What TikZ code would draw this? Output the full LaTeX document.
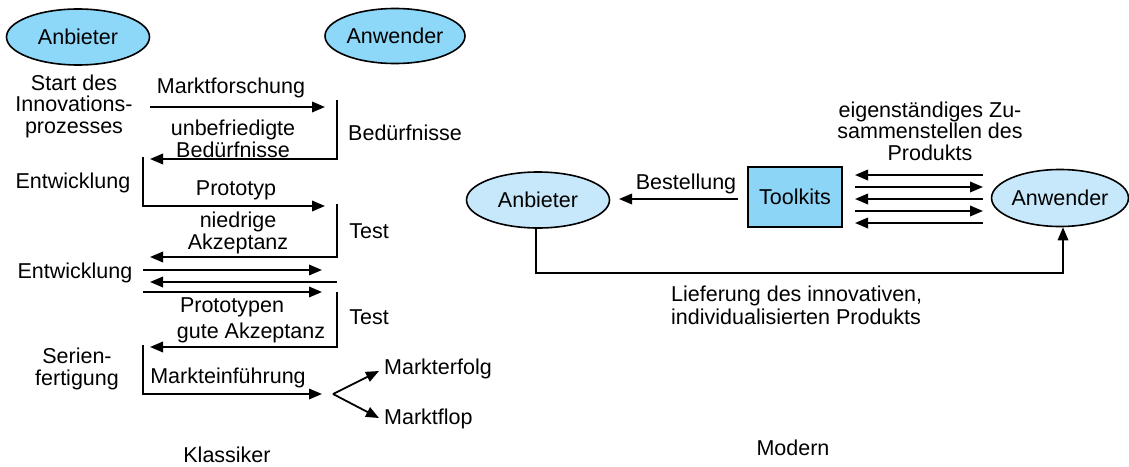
\documentclass[tikz,border=0pt]{standalone}
\usepackage{fontspec}
\setmainfont{Liberation Sans}
\usetikzlibrary{shapes.geometric,arrows.meta}
\definecolor{bluedark}{HTML}{8DD8F8}
\definecolor{bluelight}{HTML}{C6E8FA}
\definecolor{boxblue}{HTML}{8DD5F6}
\begin{document}
\begin{tikzpicture}[x=1pt,y=-1pt,
  every node/.style={font=\fontsize{21.5}{21.5}\selectfont, inner sep=0pt},
  oval/.style={ellipse, draw=black, line width=1.6pt, inner sep=0pt},
  lbl/.style={align=center},
  conn/.style={line width=1.8pt, -{Triangle[length=13pt,width=10.5pt]}},
  plain/.style={line width=1.8pt}]
\useasboundingbox (0,0) rectangle (1129,466);
% ---------------- Klassiker ----------------
\node[oval, fill=bluedark, minimum width=143pt, minimum height=56pt] (anb1) at (78,37) {Anbieter};
\node[oval, fill=bluedark, minimum width=140pt, minimum height=55pt] (anw1) at (395,36) {Anwender};

\node[lbl] (start) at (74,106) {Start des\\Innovations-\\prozesses};
\node (mf) at (231,88) {Marktforschung};
\node (bed) at (405,133) {Bedürfnisse};
\node[lbl] (unb) at (233,139) {unbefriedigte\\Bedürfnisse};
\node (ent1) at (73,183) {Entwicklung};
\node (proto) at (236,190) {Prototyp};
\node (test1) at (369,231) {Test};
\node[lbl] (nied) at (238,233) {niedrige\\Akzeptanz};
\node (ent2) at (75,273) {Entwicklung};
\node (protos) at (232,307) {Prototypen};
\node (test2) at (369,317) {Test};
\node (gute) at (251,333) {gute Akzeptanz};
\node[lbl] (serie) at (77,369) {Serien-\\fertigung};
\node (mein) at (228,378) {Markteinführung};
\node[anchor=west] (erfolg) at (384,369) {Markterfolg};
\node[anchor=west] (flop) at (384,419) {Marktflop};
\node (klass) at (227,455) {Klassiker};

\coordinate (a1s) at (150,107); \coordinate (a1e) at (325,107);
\coordinate (v1t) at (337,100); \coordinate (v1b) at (337,159); \coordinate (a2e) at (150,159);
\coordinate (v2t) at (143,157); \coordinate (v2b) at (143,206); \coordinate (a3e) at (325,206);
\coordinate (v3t) at (337,204); \coordinate (v3b) at (337,257); \coordinate (a4e) at (150,257);
\coordinate (a5s) at (143,270); \coordinate (a5e) at (322,270);
\coordinate (a6s) at (337,282); \coordinate (a6e) at (150,282);
\coordinate (a7s) at (143,292); \coordinate (a7e) at (322,292);
\coordinate (v4t) at (337,292); \coordinate (v4b) at (337,347); \coordinate (a8e) at (150,347);
\coordinate (v5t) at (143,345); \coordinate (v5b) at (143,394); \coordinate (a9e) at (322,394);
\coordinate (br) at (333,394); \coordinate (bru) at (379,371); \coordinate (brd) at (379,418);

\draw[conn] (a1s) -- (a1e);
\draw[conn] (v1t) -- (v1b) -- (a2e);
\draw[conn] (v2t) -- (v2b) -- (a3e);
\draw[conn] (v3t) -- (v3b) -- (a4e);
\draw[conn] (a5s) -- (a5e);
\draw[conn] (a6s) -- (a6e);
\draw[conn] (a7s) -- (a7e);
\draw[conn] (v4t) -- (v4b) -- (a8e);
\draw[conn] (v5t) -- (v5b) -- (a9e);
\draw[conn] (br) -- (bru);
\draw[conn] (br) -- (brd);

% ---------------- Modern ----------------
\node[oval, fill=bluelight, minimum width=143pt, minimum height=56pt] (anb2) at (538,200) {Anbieter};
\node[draw=black, line width=1.6pt, fill=boxblue, minimum width=94pt, minimum height=60pt] (tool) at (795,197) {Toolkits};
\node[oval, fill=bluelight, minimum width=134pt, minimum height=57pt] (anw2) at (1060,198) {Anwender};

\node (best) at (686,184) {Bestellung};
\node[lbl] (eig) at (930,131) {eigenständiges Zu-\\sammenstellen des\\Produkts};
\node[align=left, anchor=west, font=\fontsize{21.5}{23}\selectfont] (lief) at (671,305) {Lieferung des innovativen,\\individualisierten Produkts};
\node (modern) at (793,448) {Modern};

\coordinate (bs) at (738,199); \coordinate (be) at (619,199);
\draw[conn] (bs) -- (be);

\coordinate (p1l) at (855,175); \coordinate (p1r) at (983,175);
\coordinate (p2l) at (855,187); \coordinate (p2r) at (983,187);
\coordinate (p3l) at (855,199); \coordinate (p3r) at (983,199);
\coordinate (p4l) at (855,211); \coordinate (p4r) at (983,211);
\coordinate (p5l) at (855,223); \coordinate (p5r) at (983,223);
\draw[conn] (p1r) -- (p1l);
\draw[conn] (p2l) -- (p2r);
\draw[conn] (p3r) -- (p3l);
\draw[conn] (p4l) -- (p4r);
\draw[conn] (p5r) -- (p5l);

\coordinate (lc1) at (536,273); \coordinate (lc2) at (1063,273);
\draw[conn] (anb2.south -| lc1) -- (lc1) -- (lc2) -- (anw2.south -| lc2);
\end{tikzpicture}
\end{document}
